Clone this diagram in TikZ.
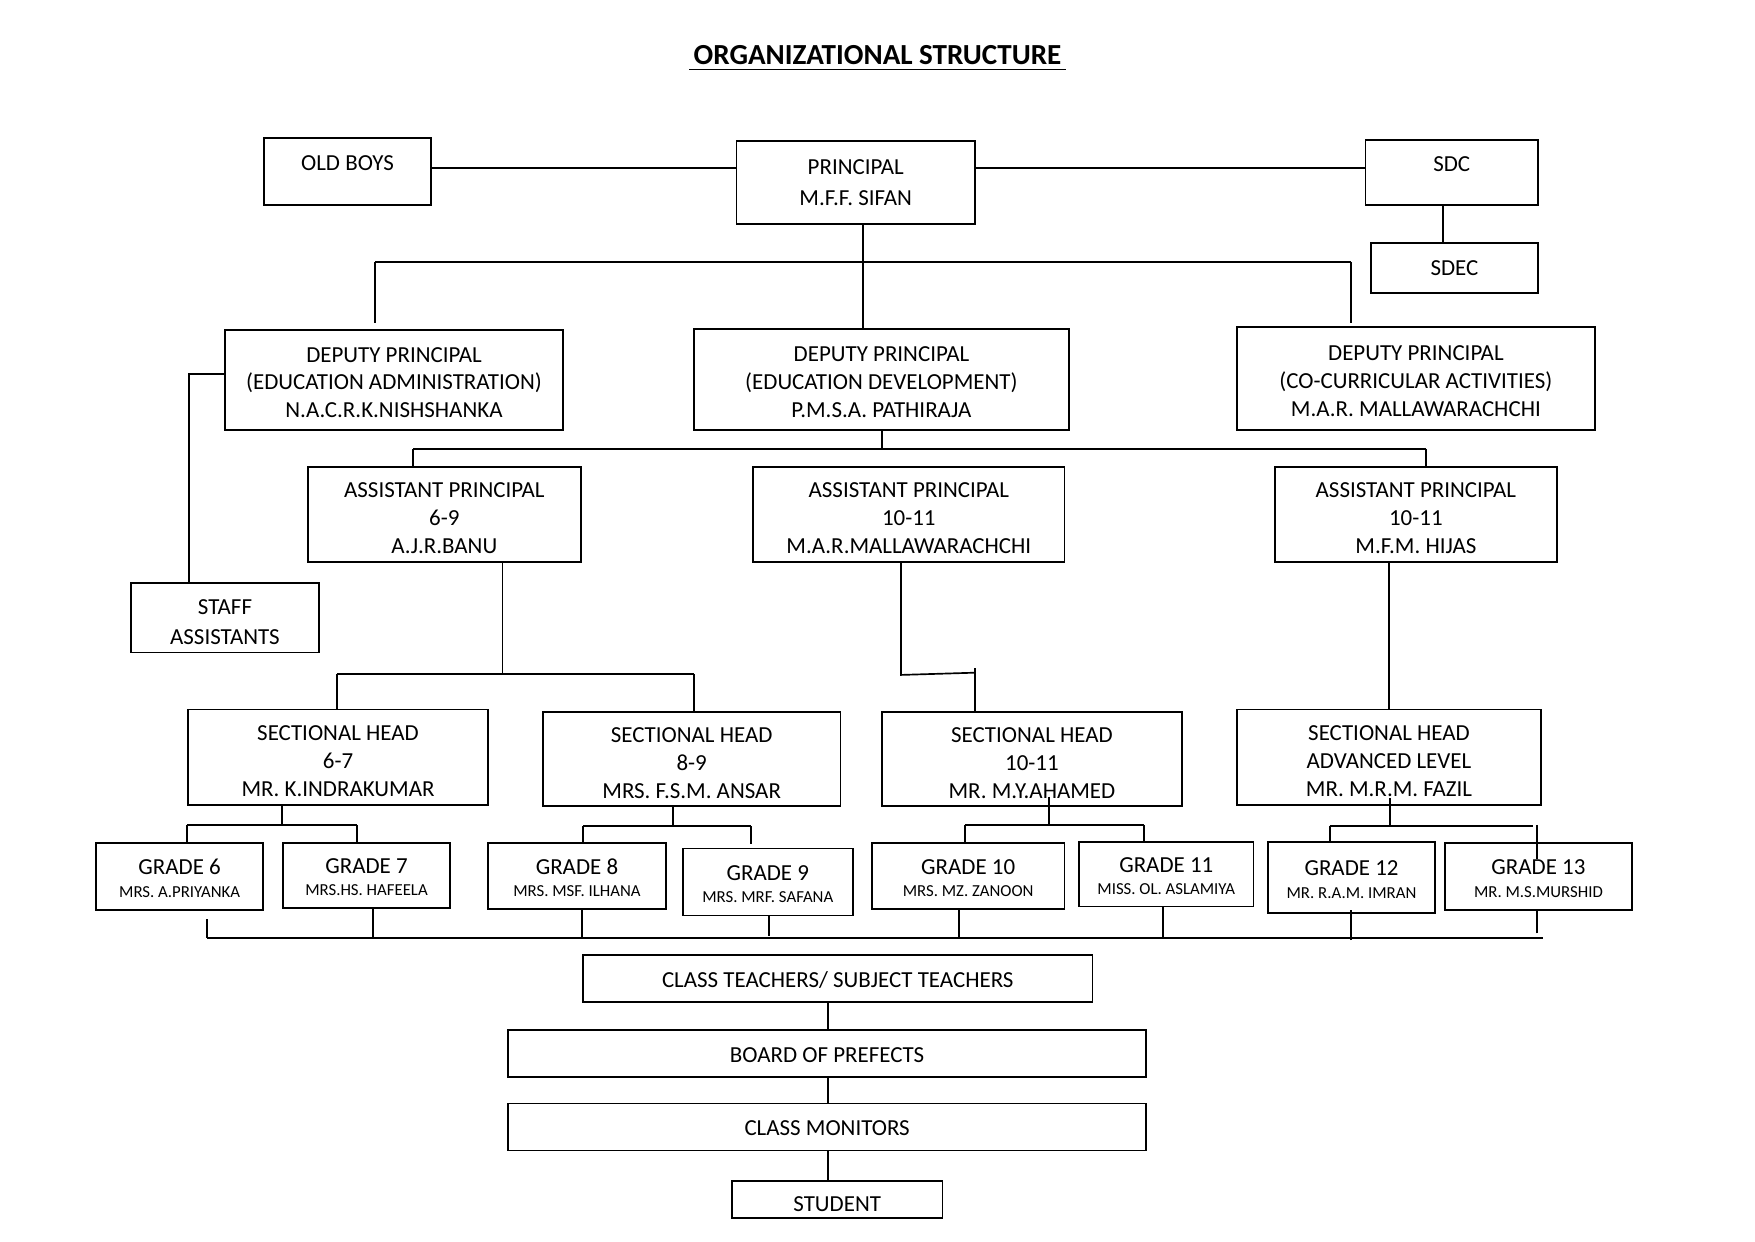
\documentclass[tikz,border=0pt]{standalone}
\usepackage{fontspec}
\setmainfont{Carlito}
\tikzset{
  box/.style={draw, align=center, inner sep=0pt, font=\fontsize{20.5}{25}\selectfont},
  grade/.style={box, font=\fontsize{20.5}{20}\selectfont},
}
\newcommand{\tname}[1]{{\fontsize{15}{20}\selectfont #1}}
\newcommand{\hlift}[1][21pt]{\rule{0pt}{#1}}
\begin{document}
\begin{tikzpicture}[x=1pt, y=-1pt, line width=1.5pt]
\useasboundingbox (0,0) rectangle (1568,1109);
\node [anchor=base, font=\fontsize{26}{30}\selectfont\bfseries] (tt) at (784,58) {ORGANIZATIONAL STRUCTURE};
\draw ([yshift=-4pt]tt.base west) to ([yshift=-4pt]tt.base east);
% top row
\node [box, minimum width=149pt, minimum height=60pt, text depth=15pt] (ob) at (310.5,153) {OLD BOYS};
\node [box, minimum width=213pt, minimum height=74pt, font=\fontsize{20.5}{28}\selectfont] (pr) at (764.5,163) {PRINCIPAL\\M.F.F. SIFAN};
\node [box, minimum width=154pt, minimum height=58pt, text depth=15pt] (sdc) at (1297,154) {SDC};
\node [box, minimum width=149pt, minimum height=45pt] (sdec) at (1299.5,239.5) {SDEC};
% deputies
\node [box, minimum width=302pt, minimum height=89pt] (dpa) at (352,339.5) {\hlift[18pt]DEPUTY PRINCIPAL\\(EDUCATION ADMINISTRATION)\\N.A.C.R.K.NISHSHANKA};
\node [box, minimum width=335pt, minimum height=90pt] (dpd) at (787.5,339) {\hlift[18pt]DEPUTY PRINCIPAL\\(EDUCATION DEVELOPMENT)\\P.M.S.A. PATHIRAJA};
\node [box, minimum width=320pt, minimum height=92pt] (dpc) at (1265,338) {\hlift[18pt]DEPUTY PRINCIPAL\\(CO-CURRICULAR ACTIVITIES)\\M.A.R. MALLAWARACHCHI};
\node [box, minimum width=168pt, minimum height=62pt, font=\fontsize{20.5}{26}\selectfont] (staff) at (201,552) {\hlift STAFF\\ASSISTANTS};
% assistant principals
\node [box, minimum width=244pt, minimum height=85pt] (ap1) at (397,459.5) {\hlift ASSISTANT PRINCIPAL\\6-9\\A.J.R.BANU};
\node [box, minimum width=278pt, minimum height=85pt] (ap2) at (812,459.5) {\hlift ASSISTANT PRINCIPAL\\10-11\\M.A.R.MALLAWARACHCHI};
\node [box, minimum width=252pt, minimum height=85pt] (ap3) at (1265,459.5) {\hlift ASSISTANT PRINCIPAL\\10-11\\M.F.M. HIJAS};
% sectional heads
\node [box, minimum width=268pt, minimum height=85pt] (sh1) at (302,676.5) {\hlift SECTIONAL HEAD\\6-7\\MR. K.INDRAKUMAR};
\node [box, minimum width=266pt, minimum height=84pt] (sh2) at (618,678) {\hlift SECTIONAL HEAD\\8-9\\MRS. F.S.M. ANSAR};
\node [box, minimum width=268pt, minimum height=84pt] (sh3) at (922,678) {\hlift SECTIONAL HEAD\\10-11\\MR. M.Y.AHAMED};
\node [box, minimum width=272pt, minimum height=85pt] (sh4) at (1241,676.5) {\hlift SECTIONAL HEAD\\ADVANCED LEVEL\\MR. M.R.M. FAZIL};
% grades
\node [grade, minimum width=149pt, minimum height=60pt] (g6) at (160.5,783) {\hlift[17pt]GRADE 6\\\tname{MRS. A.PRIYANKA}};
\node [grade, minimum width=149pt, minimum height=58pt] (g7) at (327.5,782) {\hlift[17pt]GRADE 7\\\tname{MRS.HS. HAFEELA}};
\node [grade, minimum width=159pt, minimum height=59pt] (g8) at (515.5,782.5) {\hlift[17pt]GRADE 8\\\tname{MRS. MSF. ILHANA}};
\node [grade, minimum width=152pt, minimum height=60pt] (g9) at (686,788) {\hlift[17pt]GRADE 9\\\tname{MRS. MRF. SAFANA}};
\node [grade, minimum width=172pt, minimum height=59pt] (g10) at (865,782.5) {\hlift[17pt]GRADE 10\\\tname{MRS. MZ. ZANOON}};
\node [grade, minimum width=156pt, minimum height=58pt] (g11) at (1042,781) {\hlift[17pt]GRADE 11\\\tname{MISS. OL. ASLAMIYA}};
\node [grade, minimum width=149pt, minimum height=64pt] (g12) at (1207.5,784) {\hlift[17pt]GRADE 12\\\tname{MR. R.A.M. IMRAN}};
\node [grade, minimum width=167pt, minimum height=60pt] (g13) at (1374.5,783) {\hlift[17pt]GRADE 13\\\tname{MR. M.S.MURSHID}};
% bottom chain
\node [box, minimum width=455pt, minimum height=42pt] (ct) at (748.5,874) {\hlift[17pt]CLASS TEACHERS/ SUBJECT TEACHERS};
\node [box, minimum width=570pt, minimum height=42pt] (bp) at (739,941) {\hlift[16pt]BOARD OF PREFECTS};
\node [box, minimum width=570pt, minimum height=42pt] (cm) at (739,1007) {\hlift[16pt]CLASS MONITORS};
\node [box, minimum width=188pt, minimum height=33pt, text height=22pt] (st) at (748,1071.5) {STUDENT};

% connectors, top
\coordinate (r0) at (0,150);
\coordinate (c0) at (1289,0);
\draw (ob.east |- r0) to (pr.west |- r0);
\draw (pr.east |- r0) to (sdc.west |- r0);
\draw (sdc.south -| c0) to (sdec.north -| c0);
\coordinate (b1) at (771,234);
\coordinate (b1l) at (335,234);
\coordinate (b1r) at (1207,234);
\draw (pr.south -| b1) to (dpd.north -| b1);
\draw (b1l) to (b1r);
\draw (b1l) to ([yshift=6pt]dpa.north -| b1l);
\draw (b1r) to ([yshift=3pt]dpc.north -| b1r);
\coordinate (s0) at (169,334);
\draw (dpa.west |- s0) -| (staff.north -| s0);
% deputy to assistants
\coordinate (b2) at (788,401);
\coordinate (b2l) at (369,401);
\coordinate (b2r) at (1274,401);
\draw (dpd.south -| b2) to (b2);
\draw (b2l) to (b2r);
\draw (b2l) to (ap1.north -| b2l);
\draw (b2r) to (ap3.north -| b2r);
% assistants to sectional heads
\coordinate (b3) at (449,602);
\coordinate (b3l) at (301,602);
\coordinate (b3r) at (620,602);
\draw (ap1.south -| b3) to (b3);
\draw (b3l) to (b3r);
\draw (b3l) to (sh1.north -| b3l);
\draw (b3r) to (sh2.north -| b3r);
\coordinate (b4) at (805,603);
\coordinate (b4r) at (871,601);
\draw (ap2.south -| b4) to (b4) to (b4r);
\draw ([yshift=4pt]b4r) to (sh3.north -| b4r);
\draw (ap3.south -| sh4.north) to (sh4.north);
% sectional heads to grades
\coordinate (b5) at (252,737);
\coordinate (b5l) at (167,737);
\coordinate (b5r) at (319,737);
\draw (sh1.south -| b5) to (b5);
\draw (b5l) to (b5r);
\draw (b5l) to (g6.north -| b5l);
\draw (b5r) to (g7.north -| b5r);
\coordinate (b6) at (601,738);
\coordinate (b6l) at (521,738);
\coordinate (b6r) at (671,738);
\draw (sh2.south -| b6) to (b6);
\draw (b6l) to (b6r);
\draw (b6l) to (g8.north -| b6l);
\draw (b6r) to ([yshift=3pt]g9.north -| b6r);
\coordinate (b7) at (937,737);
\coordinate (b7l) at (862,737);
\coordinate (b7r) at (1022,737);
\draw ([yshift=9pt]sh3.south -| b7) to (b7);
\draw (b7l) to (b7r);
\draw (b7l) to (g10.north -| b7l);
\draw (b7r) to (g11.north -| b7r);
\coordinate (b8) at (1242,738);
\coordinate (b8l) at (1188,738);
\coordinate (b8r) at (1370,738);
\coordinate (b8d) at (1373,737);
\draw ([yshift=7pt]sh4.south -| b8) to (b8);
\draw (b8l) to (b8r);
\draw (b8l) to (g12.north -| b8l);
\draw (b8d) to ([yshift=-15pt]g13.north -| b8d);
% grades to bottom bar
\coordinate (b9l) at (185,838);
\coordinate (b9r) at (1379,838);
\draw (b9l) to (b9r);
\draw (b9l) to ([yshift=-7pt]g6.south -| b9l);
\coordinate (r7) at (333,838);
\coordinate (r8) at (520,838);
\coordinate (r9) at (687,836);
\coordinate (r10) at (857,838);
\coordinate (r11) at (1039,838);
\coordinate (r12) at (1207,840);
\coordinate (r13) at (1373,834);
\draw (r7) to (g7.south -| r7);
\draw (r8) to (g8.south -| r8);
\draw (r9) to (g9.south -| r9);
\draw (r10) to (g10.south -| r10);
\draw (r11) to (g11.south -| r11);
\draw (r12) to ([yshift=4pt]g12.south -| r12);
\draw (r13) to (g13.south -| r13);
% lower chain
\coordinate (c1) at (740,0);
\draw (ct.south -| c1) to (bp.north -| c1);
\draw (bp.south -| c1) to (cm.north -| c1);
\draw (cm.south -| c1) to (st.north -| c1);
\end{tikzpicture}
\end{document}
